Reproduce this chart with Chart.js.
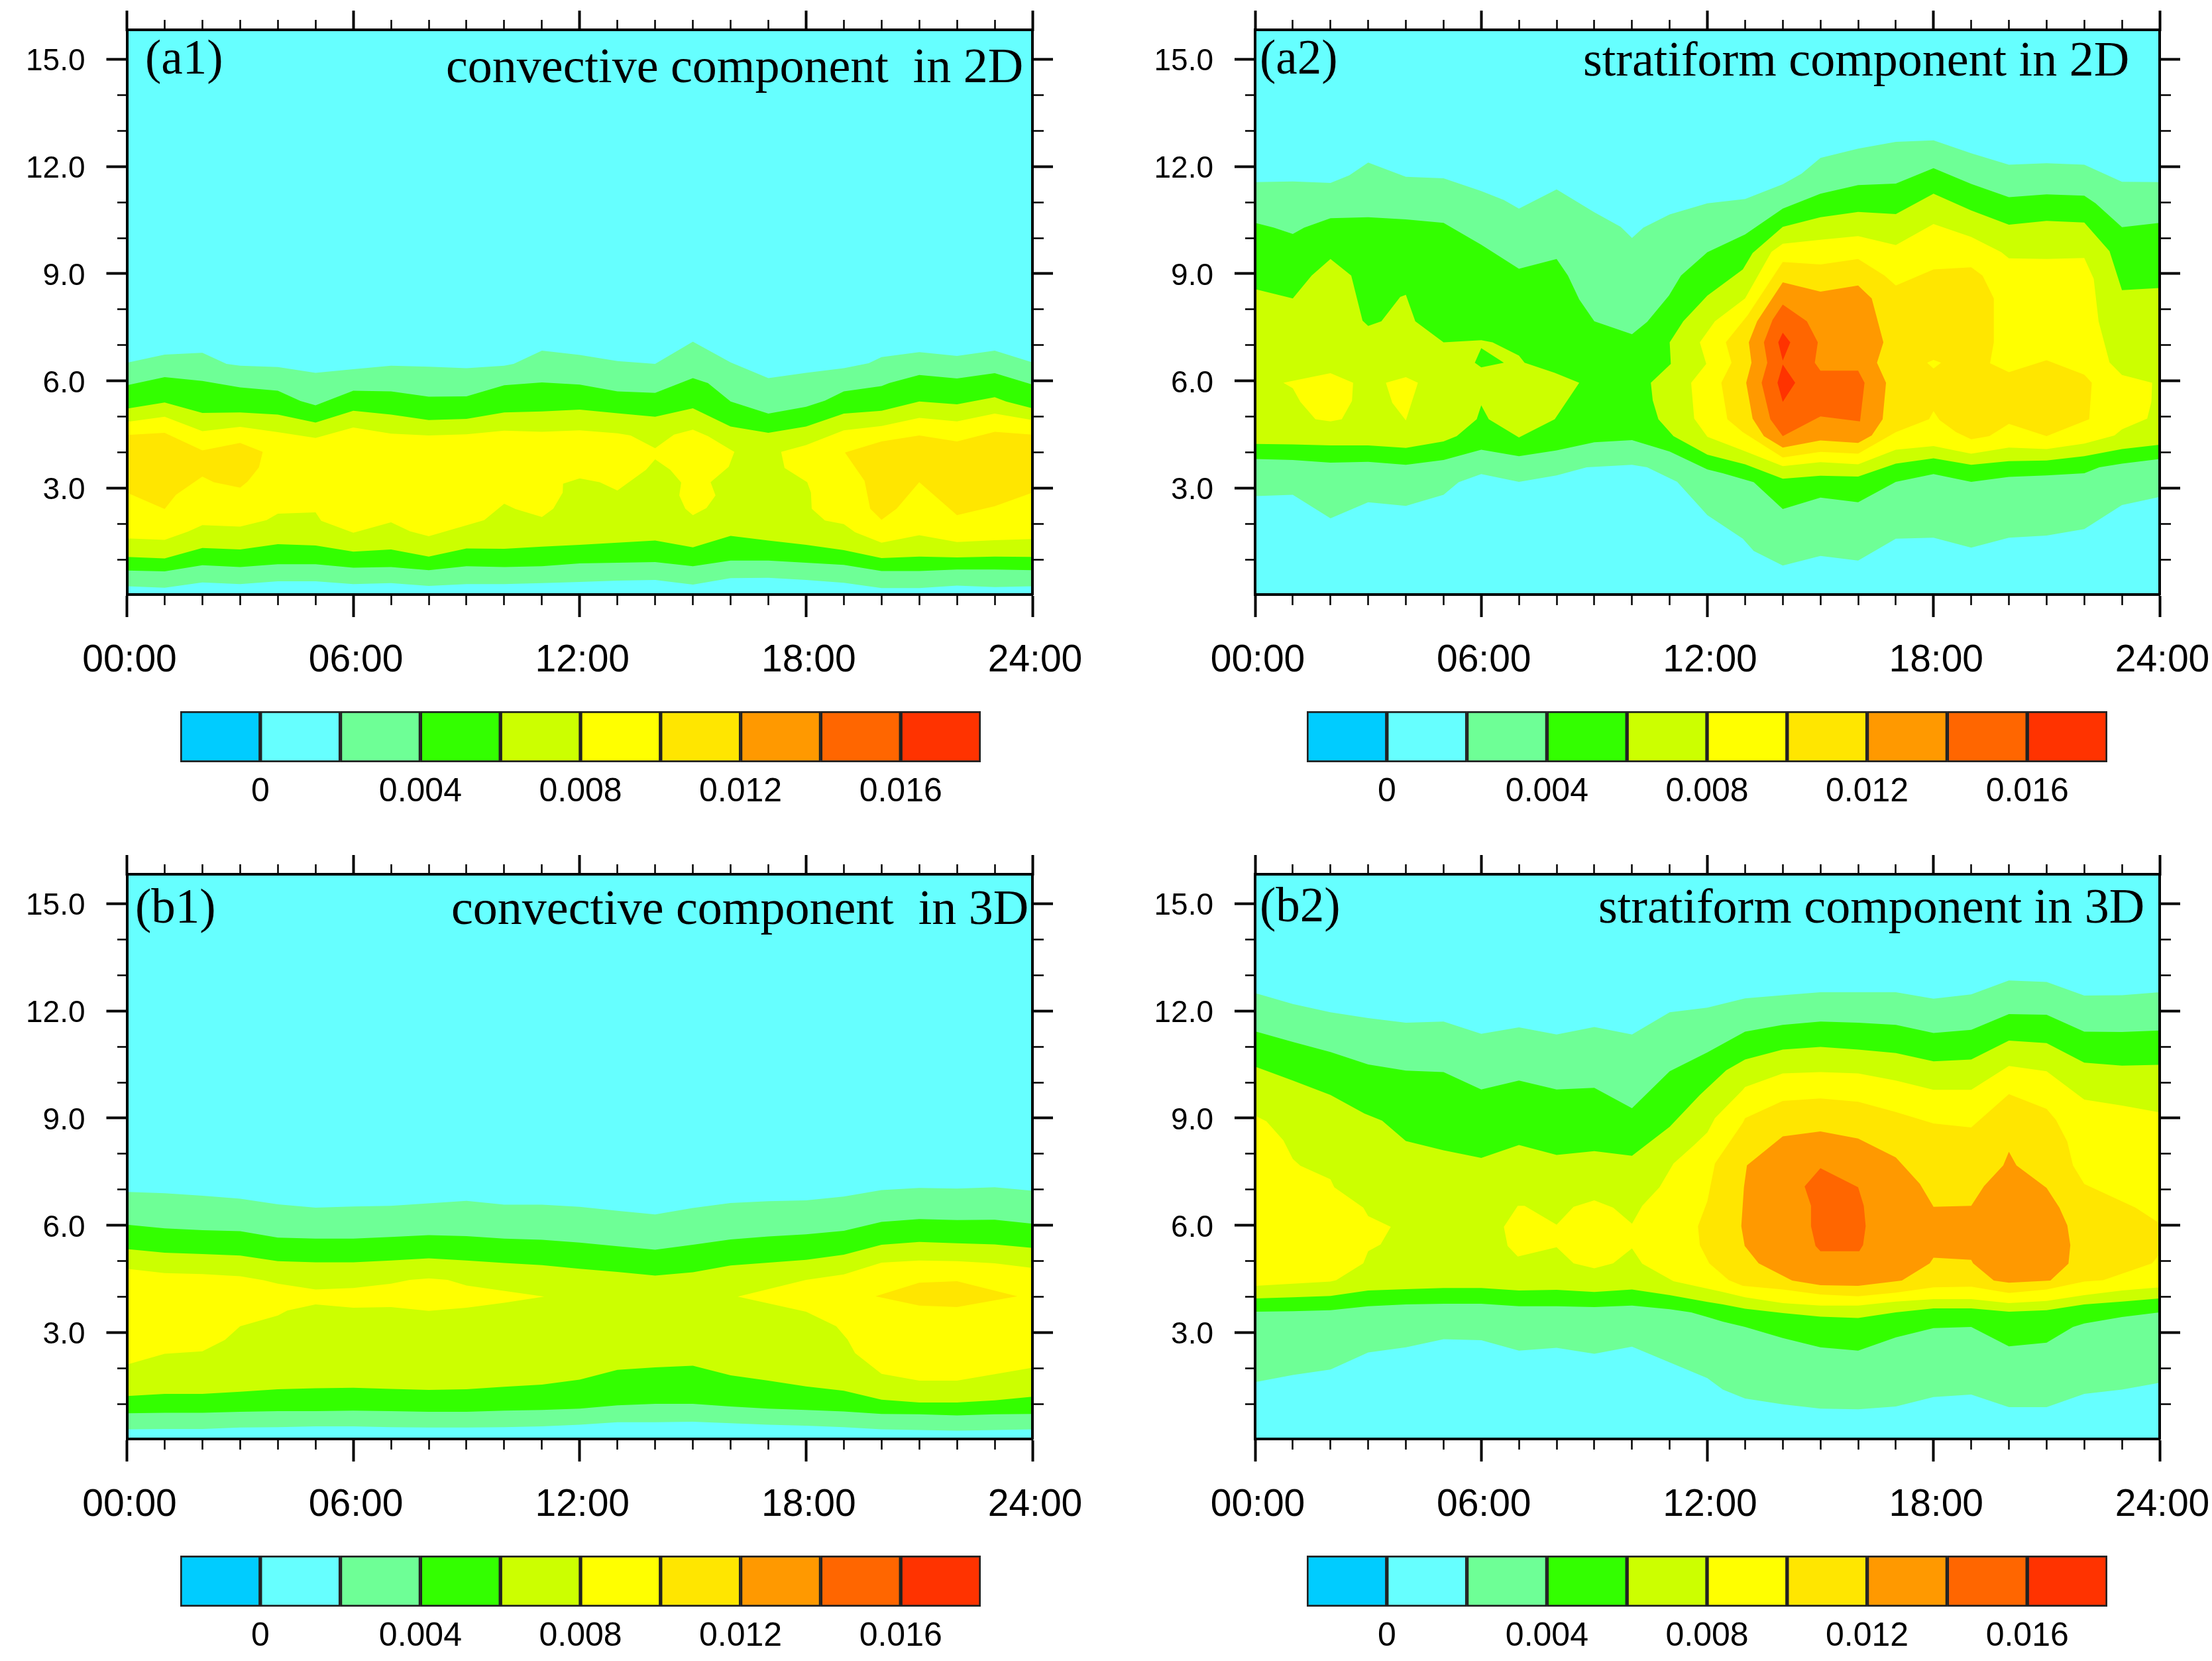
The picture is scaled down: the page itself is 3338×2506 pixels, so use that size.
<!DOCTYPE html>
<html><head><meta charset="utf-8">
<script src="https://cdn.jsdelivr.net/npm/chart.js@4"></script>
<style>
html,body{margin:0;padding:0;background:#fff;width:3338px;height:2506px;overflow:hidden}
canvas{position:absolute;display:block}
.t{position:absolute;font-family:"Liberation Serif",serif;color:#000;white-space:pre;line-height:1;transform-origin:0 50%}
</style></head><body>
<script>
const COL={cy:'#66ffff',lg:'#6eff96',gr:'#33ff00',yg:'#ccff00',ye:'#ffff00',go:'#ffe600',or:'#ff9900',dk:'#ff6600',re:'#ff3300',sky:'#00ccff'};
const yMin=0.03,yMax=15.82;
const xMajorTicks=[0,6,12,18,24];
const xMinorTicks=[1,2,3,4,5,7,8,9,10,11,13,14,15,16,17,19,20,21,22,23];
const yMajorTicks=[3,6,9,12,15];
const yMinorTicks=[1,2,4,5,7,8,10,11,13,14];
const xLabels=['00:00','06:00','12:00','18:00','24:00'];
const cbLevels=[-0.002,0,0.002,0.004,0.006,0.008,0.010,0.012,0.014,0.016];
const cbColors=[COL.sky,COL.cy,COL.lg,COL.gr,COL.yg,COL.ye,COL.go,COL.or,COL.dk,COL.re];
const cbTicks=[0,0.004,0.008,0.012,0.016];
const background=[[0,yMin],[24,yMin],[24,yMax],[0,yMax]];

// ---- panel a1: convective 2D
const a1_002top=[[0,6.51],[1,6.74],[2,6.79],[2.64,6.48],[3,6.43],[4,6.39],[5,6.23],[6,6.33],[7,6.43],[8,6.40],[9,6.36],[10,6.43],[10.25,6.48],[11,6.85],[12,6.73],[13,6.56],[14,6.48],[15,7.10],[16,6.52],[17,6.08],[18,6.23],[19,6.36],[19.66,6.50],[20,6.67],[21,6.81],[22,6.70],[23,6.85],[24,6.52]];
const a1_002bot=[[24,0.26],[23,0.24],[22,0.28],[21,0.21],[20,0.21],[19,0.36],[18,0.44],[17,0.50],[16,0.49],[15,0.31],[14,0.44],[13,0.42],[12,0.38],[11,0.35],[10,0.32],[9,0.32],[8,0.27],[7,0.35],[6,0.32],[5,0.40],[4,0.40],[3,0.32],[2,0.37],[1,0.22],[0,0.26]];
const a1_004top=[[0,5.88],[1,6.11],[2,6.0],[3,5.82],[4,5.73],[4.6,5.44],[5,5.32],[6,5.73],[7,5.71],[8,5.56],[9,5.57],[10,5.88],[11,5.96],[12,5.90],[13,5.71],[14,5.67],[15,6.08],[15.4,5.94],[16,5.43],[17,5.09],[18,5.28],[18.5,5.45],[19,5.71],[20,5.86],[20.2,5.94],[21,6.17],[22,6.07],[23,6.22],[24,5.90]];
const a1_004bot=[[24,0.71],[23,0.73],[22,0.73],[21,0.69],[20,0.69],[19,0.86],[18,0.92],[17,0.98],[16,0.98],[15,0.82],[14,0.94],[13,0.92],[12,0.90],[11,0.82],[10,0.80],[9,0.82],[8,0.71],[7,0.80],[6,0.78],[5,0.88],[4,0.88],[3,0.80],[2,0.85],[1,0.68],[0,0.70]];
const a1_006top=[[0,5.23],[1,5.40],[2,5.11],[3,5.12],[4,5.06],[5,4.84],[6,5.17],[7,5.06],[8,4.91],[9,4.94],[10,5.12],[11,5.15],[12,5.20],[13,5.10],[14,5.0],[15,5.24],[16,4.73],[17,4.55],[18,4.73],[19,5.09],[20,5.17],[21,5.43],[22,5.35],[23,5.55],[23.3,5.43],[24,5.24]];
const a1_006bot=[[24,1.08],[23,1.09],[22,1.07],[21,1.09],[20,1.05],[19,1.27],[18,1.42],[17,1.54],[16,1.67],[15,1.35],[14,1.54],[13,1.48],[12,1.42],[11,1.37],[10,1.31],[9,1.32],[8,1.09],[7,1.29],[6,1.23],[5,1.40],[4,1.44],[3,1.29],[2,1.33],[1,1.04],[0,1.08]];
const a1_008left=[[0,4.86],[1,5.0],[2,4.6],[3,4.72],[4,4.57],[5,4.41],[6,4.70],[7,4.53],[8,4.48],[9,4.51],[10,4.61],[11,4.58],[12,4.62],[13,4.54],[13.35,4.48],[14,4.12],[14.5,4.50],[15,4.64],[15.4,4.46],[16,4.08],[16.1,4.02],[15.95,3.6],[15.47,3.17],[15.6,2.8],[15.36,2.45],[15,2.25],[14.8,2.43],[14.64,2.8],[14.69,3.16],[14.4,3.52],[14,3.81],[13.76,3.52],[13,2.94],[12.53,3.17],[12,3.28],[11.56,3.13],[11.55,2.88],[11.3,2.43],[11,2.2],[10.3,2.42],[10,2.57],[9.47,2.11],[8,1.66],[7.5,1.8],[7,2.05],[6,1.76],[5.15,2.09],[5,2.33],[4,2.29],[3.7,2.11],[3,1.93],[2,1.97],[1.62,1.79],[1,1.56],[0,1.6]];
const a1_008right=[[17.34,4.02],[18,4.21],[19,4.62],[20,4.74],[21,4.97],[22,4.87],[23,5.09],[24,4.91],[24,1.58],[23,1.55],[22,1.50],[21,1.69],[20,1.48],[19.3,1.77],[19,2.0],[18.5,2.10],[18.15,2.43],[18.13,2.88],[18.03,3.17],[17.43,3.57]];
const a1_010left=[[0,4.49],[1,4.55],[2,4.06],[3,4.27],[3.6,4.02],[3.5,3.59],[3.2,3.19],[3,3.02],[2.3,3.17],[2,3.33],[1.3,2.82],[1,2.42],[0,2.88]];
const a1_010right=[[19.03,4.0],[20,4.31],[21,4.48],[22,4.31],[23,4.58],[24,4.50],[24,2.88],[23,2.50],[22,2.25],[21,3.17],[20.4,2.43],[20,2.12],[19.7,2.43],[19.55,3.21]];

// ---- panel a2: stratiform 2D
const a2_002top=[[0,11.56],[1,11.58],[2,11.54],[2.5,11.75],[3,12.11],[4,11.71],[5,11.67],[6,11.31],[6.6,11.06],[7,10.82],[8,11.36],[9,10.72],[9.7,10.31],[10,10.0],[10.3,10.29],[11,10.66],[12,10.97],[13,11.09],[14,11.5],[14.5,11.8],[15,12.24],[16,12.5],[17,12.69],[18,12.73],[19,12.37],[20,12.05],[21,12.09],[22,12.05],[23,11.57],[24,11.56]];
const a2_002bot=[[24,2.76],[23,2.53],[22,1.86],[21,1.68],[20,1.62],[19,1.34],[18,1.62],[17,1.59],[16,0.98],[15,1.11],[14,0.84],[13.23,1.25],[12.94,1.59],[12,2.25],[11.2,3.18],[10.4,3.59],[10,3.66],[8.8,3.59],[8,3.36],[7,3.18],[6,3.40],[5.4,3.17],[5,2.82],[4,2.51],[3,2.61],[2,2.16],[1,2.82],[0,2.78]];
const a2_004top=[[0,10.42],[0.5,10.29],[1,10.11],[1.3,10.29],[2,10.55],[3,10.58],[4,10.52],[5,10.42],[6,9.81],[7,9.14],[8,9.41],[8.3,8.95],[8.6,8.28],[9,7.67],[10,7.31],[10.4,7.65],[10.98,8.39],[11.3,8.95],[12,9.60],[13,10.1],[14,10.82],[15,11.24],[16,11.48],[17,11.52],[18,11.95],[19,11.51],[20,11.14],[21,11.22],[22,11.18],[22.3,10.97],[23,10.3],[24,10.42]];
const a2_004bot=[[24,3.82],[23,3.69],[22.4,3.59],[22,3.42],[21,3.36],[20,3.32],[19,3.18],[18,3.40],[17,3.18],[16,2.61],[15,2.74],[14,2.42],[13.23,3.17],[12.41,3.42],[12,3.53],[11,4.03],[10,4.35],[9,4.29],[8,4.06],[7,3.9],[6,4.08],[5,3.79],[4,3.66],[3,3.74],[2,3.72],[1,3.79],[0,3.82]];
const a2_006left=[[0,8.57],[1,8.31],[1.5,8.95],[2,9.41],[2.55,8.95],[2.85,7.69],[3,7.54],[3.35,7.67],[3.85,8.35],[4,8.41],[4.25,7.67],[5,7.08],[6,7.14],[6.3,7.08],[7,6.71],[7.15,6.51],[7.95,6.23],[8.6,5.95],[7.95,4.93],[7,4.42],[6.2,4.93],[6,5.32],[5.88,4.93],[5.35,4.46],[5,4.31],[4,4.13],[3,4.2],[2,4.2],[1,4.23],[0,4.24]];
const a2_006hole=[[6,6.92],[6.6,6.51],[6,6.38],[5.83,6.51]];
const a2_006right=[[11,7.08],[11.36,7.67],[12,8.39],[12.94,9.12],[13.2,9.58],[14,10.31],[15,10.58],[16,10.73],[17,10.67],[18,11.24],[19,10.77],[20,10.37],[21,10.48],[22,10.43],[22.67,9.63],[23,8.54],[24,8.6],[24,4.22],[23,4.1],[22,3.9],[21,3.78],[20,3.76],[19,3.66],[18,3.84],[17,3.69],[16,3.33],[15,3.35],[14,3.27],[13,3.67],[12.41,3.83],[12,3.94],[11.1,4.46],[10.7,4.93],[10.55,5.46],[10.5,5.95],[11.03,6.48]];
const a2_008isl1=[[0.75,5.95],[2,6.22],[2.6,5.95],[2.57,5.44],[2.3,4.93],[2,4.87],[1.6,4.93],[1.2,5.42],[1,5.8]];
const a2_008isl2=[[3.47,5.95],[4,6.11],[4.32,5.95],[4,4.9],[3.64,5.39]];
const a2_008right=[[11.8,7.08],[12.2,7.67],[13,8.31],[13.7,9.61],[14,9.84],[15,9.95],[16,10.05],[17,9.8],[18,10.39],[19,10.03],[19.8,9.6],[20,9.43],[21,9.41],[22,9.44],[22.25,8.86],[22.38,7.67],[22.67,6.52],[23,6.17],[23.8,5.95],[23.78,5.42],[23.67,4.95],[23,4.65],[22.8,4.48],[22,4.25],[21,4.1],[20,4.14],[19,3.97],[18,4.18],[17,4.08],[16,3.67],[15,3.73],[14,3.62],[12.94,4.06],[12,4.44],[11.65,4.95],[11.57,5.95],[11.97,6.48]];
const a2_010=[[12.49,7.08],[13.07,7.84],[14,9.33],[15,9.26],[16,9.41],[16.7,8.95],[17,8.67],[18,9.12],[19,9.18],[19.3,8.95],[19.6,8.31],[19.6,7.08],[19.5,6.5],[20,6.25],[21,6.58],[22,6.18],[22.2,5.95],[22.13,4.93],[21,4.46],[20,4.8],[19.48,4.46],[19,4.37],[18.6,4.57],[18.16,4.91],[18,5.16],[17.88,4.93],[17,4.57],[16,3.97],[15,4.02],[14,3.86],[12.94,4.57],[12.53,4.93],[12.37,5.95],[12.64,6.51]];
const a2_010hole=[[17.83,6.51],[18,6.59],[18.2,6.51],[18,6.35]];
const a2_012=[[14,8.76],[15,8.5],[16,8.67],[16.36,8.31],[16.67,7.08],[16.5,6.51],[16.74,5.95],[16.65,4.93],[16.36,4.48],[16,4.27],[15,4.34],[14,4.14],[13.5,4.46],[13.2,4.95],[13.03,5.95],[13.17,6.51],[13.1,7.08],[13.32,7.67]];
const a2_014=[[14,8.14],[14.64,7.67],[14.93,7.08],[14.85,6.51],[15,6.29],[16,6.29],[16.17,5.95],[16.05,4.87],[15,5.01],[14,4.46],[13.67,4.93],[13.44,5.95],[13.59,6.51],[13.5,7.08],[13.73,7.71]];
const a2_016a=[[14,7.35],[14.2,7.08],[14,6.57],[13.88,7.08]];
const a2_016b=[[14,6.46],[14.33,5.95],[14,5.42],[13.86,5.95]];

// ---- panel b1: convective 3D
const b1_002top=[[0,6.94],[1,6.90],[2,6.83],[3,6.75],[4,6.59],[5,6.50],[6,6.53],[7,6.55],[8,6.62],[9,6.69],[10,6.58],[11,6.58],[12,6.52],[13,6.41],[14,6.31],[15,6.49],[16,6.63],[17,6.68],[18,6.70],[19,6.81],[20,6.99],[21,7.05],[22,7.03],[23,7.07],[24,6.97]];
const b1_002bot=[[24,0.30],[23,0.28],[22,0.26],[21,0.28],[20,0.30],[19,0.36],[18,0.40],[17,0.43],[16,0.47],[15,0.51],[14,0.50],[13,0.50],[12,0.43],[11,0.38],[10,0.36],[9,0.35],[8,0.35],[7,0.36],[6,0.38],[5,0.38],[4,0.36],[3,0.35],[2,0.31],[1,0.31],[0,0.30]];
const b1_004top=[[0,6.02],[1,5.92],[2,5.87],[3,5.84],[4,5.66],[5,5.63],[6,5.63],[7,5.68],[8,5.73],[9,5.70],[10,5.63],[11,5.60],[12,5.52],[13,5.42],[14,5.32],[15,5.46],[16,5.61],[17,5.69],[18,5.75],[19,5.85],[20,6.10],[21,6.18],[22,6.15],[23,6.16],[24,6.05]];
const b1_004bot=[[24,0.73],[23,0.72],[22,0.69],[21,0.72],[20,0.73],[19,0.80],[18,0.84],[17,0.88],[16,0.94],[15,1.01],[14,1.01],[13,0.97],[12,0.88],[11,0.84],[10,0.82],[9,0.79],[8,0.79],[7,0.81],[6,0.82],[5,0.81],[4,0.81],[3,0.79],[2,0.76],[1,0.76],[0,0.75]];
const b1_006top=[[0,5.34],[1,5.24],[2,5.20],[3,5.16],[4,5.0],[5,4.97],[6,4.97],[7,5.02],[8,5.08],[9,5.02],[10,4.95],[11,4.89],[12,4.79],[13,4.70],[14,4.60],[15,4.69],[16,4.88],[17,4.96],[18,5.04],[19,5.18],[20,5.46],[21,5.54],[22,5.50],[23,5.47],[24,5.37]];
const b1_006bot=[[24,1.21],[23,1.11],[22,1.05],[21,1.05],[20,1.13],[19,1.38],[18,1.50],[17,1.66],[16,1.81],[15,2.08],[14,2.03],[13,1.96],[12,1.69],[11,1.55],[10,1.49],[9,1.42],[8,1.40],[7,1.43],[6,1.46],[5,1.45],[4,1.42],[3,1.35],[2,1.29],[1,1.29],[0,1.23]];
const b1_008left=[[0,4.79],[1,4.67],[2,4.64],[3,4.58],[3.62,4.47],[4,4.37],[5,4.21],[6,4.25],[7,4.37],[7.5,4.48],[8,4.52],[8.5,4.48],[9,4.32],[11.06,4.01],[10,3.84],[9,3.70],[8,3.61],[7,3.72],[6,3.70],[5,3.79],[4.25,3.62],[4,3.48],[3,3.18],[2.6,2.80],[2,2.48],[1,2.41],[0,2.11]];
const b1_008right=[[16.19,4.01],[18,4.48],[19,4.63],[20,4.96],[21,5.02],[22,5.0],[23,4.94],[24,4.81],[24,2.02],[23,1.84],[22,1.66],[21,1.66],[20,1.85],[19.3,2.43],[19.1,2.81],[18.8,3.18],[18,3.59]];
const b1_010=[[19.84,4.02],[21,4.40],[22,4.44],[23.6,4.02],[22,3.72],[21,3.76]];

// ---- panel b2: stratiform 3D
const b2_002top=[[0,12.5],[1,12.19],[2,11.96],[3,11.8],[4,11.67],[5,11.7],[6,11.36],[7,11.54],[8,11.34],[9,11.55],[10,11.34],[11,11.96],[12,12.09],[13,12.35],[14,12.44],[15,12.52],[16,12.52],[17,12.52],[18,12.34],[19,12.46],[20,12.85],[21,12.81],[22,12.43],[23,12.44],[24,12.52]];
const b2_002bot=[[24,1.6],[23,1.41],[22,1.29],[21,0.92],[20,0.92],[19,1.27],[18,1.2],[17,0.94],[16,0.86],[15,0.88],[14,1.0],[13,1.16],[12.41,1.41],[12,1.73],[11,2.17],[10,2.61],[9,2.41],[8,2.58],[7,2.5],[6,2.79],[5,2.82],[4,2.59],[3,2.45],[2,1.97],[1,1.82],[0,1.62]];
const b2_004top=[[0,11.43],[1,11.13],[2,10.85],[3,10.5],[4,10.33],[5,10.29],[6,9.80],[7,10.05],[8,9.80],[9,9.85],[10,9.28],[11,10.31],[12,10.84],[13,11.42],[14,11.61],[15,11.7],[16,11.67],[17,11.61],[18,11.38],[19,11.47],[20,11.91],[21,11.89],[22,11.42],[23,11.41],[24,11.45]];
const b2_004bot=[[24,3.57],[23,3.44],[22,3.26],[21.7,3.16],[21,2.72],[20,2.62],[19,3.16],[18,3.13],[17,2.87],[16,2.5],[15,2.59],[14,2.85],[13,3.16],[12.41,3.31],[12,3.44],[11.57,3.57],[11,3.66],[10,3.76],[9,3.72],[8,3.74],[7,3.74],[6,3.81],[5,3.81],[4,3.79],[3,3.74],[2,3.63],[1,3.6],[0,3.59]];
const b2_006top=[[0,10.44],[1,10.05],[2,9.65],[2.9,9.13],[3.37,8.93],[4,8.36],[5,8.1],[6,7.89],[7,8.25],[8,7.97],[9,8.08],[10,7.95],[11,8.76],[11.8,9.65],[12.5,10.34],[13,10.64],[14,10.92],[15,10.99],[16,10.92],[17,10.82],[18,10.59],[19,10.64],[20,11.17],[21,11.1],[22,10.55],[23,10.47],[24,10.49]];
const b2_006bot=[[24,3.96],[23,3.87],[22,3.79],[21,3.63],[20,3.59],[19,3.68],[18,3.68],[17,3.57],[16,3.41],[15,3.45],[14,3.55],[13,3.67],[12.41,3.79],[12,3.86],[11,4.05],[10,4.21],[9,4.14],[8,4.2],[7,4.18],[6,4.25],[5,4.25],[4,4.22],[3,4.18],[2,4.03],[1,3.99],[0,3.96]];
const b2_008left=[[0,9.07],[0.3,8.91],[0.75,8.38],[1,7.86],[1.2,7.67],[2,7.29],[2.1,7.07],[2.87,6.50],[3,6.26],[3.6,5.96],[3.33,5.47],[3,5.28],[2.87,4.94],[2.15,4.47],[2,4.43],[0,4.31]];
const b2_008right=[[6.6,5.96],[6.97,6.55],[7.15,6.55],[8,6.02],[8.45,6.52],[9,6.7],[9.5,6.5],[10,6.05],[10.27,6.55],[10.73,7.07],[11.1,7.73],[11.65,8.25],[12,8.6],[12.2,9.0],[12.94,9.79],[13,9.87],[14,10.25],[15,10.29],[16,10.25],[17,10.05],[18,9.79],[19,9.79],[20,10.46],[21,10.31],[22,9.52],[23,9.35],[24,9.16],[24,4.27],[23,4.18],[22,4.05],[21,3.89],[20,3.83],[19,3.94],[18,3.94],[17,3.87],[16,3.76],[15,3.76],[14,3.83],[13,3.99],[12.41,4.14],[11.1,4.44],[10.27,4.93],[10,5.36],[9.5,4.94],[9,4.8],[8.45,4.94],[8,5.39],[6.97,5.13],[6.7,5.43]];
const b2_010=[[11.75,5.98],[12,6.68],[12.2,7.73],[12.94,8.87],[13,9.0],[14,9.48],[15,9.55],[16,9.46],[17,9.17],[18,8.85],[19,8.74],[20,9.67],[21,9.26],[21.25,8.95],[21.55,8.34],[21.7,7.68],[22,7.16],[23.36,6.5],[24,6.06],[24,5.2],[23.8,4.94],[22.5,4.47],[22,4.43],[21,4.21],[20,4.11],[19,4.29],[18,4.27],[17,4.12],[16,4.02],[15,4.07],[14,4.21],[12.94,4.31],[12.57,4.47],[12.05,4.94],[11.8,5.45]];
const b2_012=[[13.05,7.68],[14,8.49],[15,8.63],[16,8.43],[17,7.9],[17.64,7.16],[18,6.52],[19,6.55],[19.34,7.1],[19.85,7.68],[20,8.06],[20.2,7.68],[21,7.05],[21.34,6.5],[21.55,6.0],[21.63,5.45],[21.58,4.93],[21.1,4.46],[20,4.4],[19.6,4.46],[19.05,4.94],[19,5.04],[18,5.1],[17.9,4.94],[17.16,4.46],[16,4.31],[15,4.33],[14.25,4.46],[13.36,4.94],[12.99,5.43],[12.9,5.98],[12.97,7.07]];
const b2_014=[[15,7.6],[16,7.07],[16.15,6.55],[16.2,5.98],[16.13,5.45],[16.03,5.28],[15,5.28],[14.87,5.43],[14.75,5.98],[14.75,6.55],[14.58,7.09]];

const join=(a,b)=>a.concat(b);
const panels=[
 {id:'a1',left:0,top:0,w:1650,h:1050,plot:[191.5,45,1558,897],polys:[
  [background,COL.cy],[join(a1_002top,a1_002bot),COL.lg],[join(a1_004top,a1_004bot),COL.gr],[join(a1_006top,a1_006bot),COL.yg],
  [a1_008left,COL.ye],[a1_008right,COL.ye],[a1_010left,COL.go],[a1_010right,COL.go]]},
 {id:'a2',left:1700,top:0,w:1638,h:1050,plot:[1894,45,3259,897],polys:[
  [background,COL.cy],[join(a2_002top,a2_002bot),COL.lg],[join(a2_004top,a2_004bot),COL.gr],[a2_006left,COL.yg],[a2_006hole,COL.gr],[a2_006right,COL.yg],
  [a2_008isl1,COL.ye],[a2_008isl2,COL.ye],[a2_008right,COL.ye],[a2_010,COL.go],[a2_010hole,COL.ye],[a2_012,COL.or],[a2_014,COL.dk],[a2_016a,COL.re],[a2_016b,COL.re]]},
 {id:'b1',left:0,top:1270,w:1650,h:1040,plot:[191.5,1319,1558,2171],polys:[
  [background,COL.cy],[join(b1_002top,b1_002bot),COL.lg],[join(b1_004top,b1_004bot),COL.gr],[join(b1_006top,b1_006bot),COL.yg],
  [b1_008left,COL.ye],[b1_008right,COL.ye],[b1_010,COL.go]]},
 {id:'b2',left:1700,top:1270,w:1638,h:1040,plot:[1894,1319,3259,2171],polys:[
  [background,COL.cy],[join(b2_002top,b2_002bot),COL.lg],[join(b2_004top,b2_004bot),COL.gr],[join(b2_006top,b2_006bot),COL.yg],
  [b2_008left,COL.ye],[b2_008right,COL.ye],[b2_010,COL.go],[b2_012,COL.or],[b2_014,COL.dk]]}
];
const labels=[
 ['(a1)',219,90],['convective component  in 2D',673,102],
 ['(a2)',1901,90],['stratiform component in 2D',2389,92],
 ['(b1)',204,1371],['convective component  in 3D',681,1372],
 ['(b2)',1901,1369],['stratiform component in 3D',2412,1370]
];
const colorbars=[[272,1073],[1972,1073],[272,2347],[1972,2347]];

function mkCanvas(l,t,w,h){const c=document.createElement('canvas');c.width=w;c.height=h;c.style.left=l+'px';c.style.top=t+'px';c.style.width=w+'px';c.style.height=h+'px';document.body.appendChild(c);return c;}
const setTicks=list=>ax=>{ax.ticks=list.map(v=>({value:v}));};
const noPad=s=>{s.paddingLeft=0;s.paddingRight=0;s.paddingTop=0;s.paddingBottom=0;};

function scaleBase(axis,list,min,max,len,width,position){
  return {type:'linear',axis,min,max,position,afterBuildTicks:setTicks(list),afterFit:noPad,
    ticks:{display:false,autoSkip:false,maxRotation:0},
    grid:{display:true,drawOnChartArea:false,drawTicks:true,tickLength:len,tickWidth:width,tickColor:'#000'},
    border:{display:false}};
}
panels.forEach(p=>{
  const [L,T,R,B]=p.plot;
  const cv=mkCanvas(p.left,p.top,p.w,p.h);
  const yAxisW=L-p.left, xAxisH=p.top+p.h-B;
  const frame=(o)=>{o.border={display:true,color:'#000',width:4,z:2};return o;};
  const x=frame(scaleBase('x',xMajorTicks,0,24,34,4,'bottom'));
  x.ticks={display:true,autoSkip:false,maxRotation:0,minRotation:0,padding:32,labelOffset:4,color:'#000',font:{family:'"Liberation Sans"',size:57},
    callback:v=>xLabels[xMajorTicks.indexOf(v)]};
  x.afterFit=s=>{noPad(s);s.height=xAxisH;};
  const y=frame(scaleBase('y',yMajorTicks,yMin,yMax,31,4,'left'));
  y.ticks={display:true,autoSkip:false,padding:32,labelOffset:4,color:'#000',font:{family:'"Liberation Sans"',size:46},callback:v=>v.toFixed(1)};
  y.afterFit=s=>{noPad(s);s.width=yAxisW;};
  const scales={x,y,
    xBottomMinor:scaleBase('x',xMinorTicks,0,24,16,2.5,{y:yMin}),
    xTopMajor:frame(scaleBase('x',xMajorTicks,0,24,-31,4,{y:yMax})),
    xTopMinor:scaleBase('x',xMinorTicks,0,24,-15,2.5,{y:yMax}),
    yLeftMinor:scaleBase('y',yMinorTicks,yMin,yMax,15,2.5,{x:0}),
    yRightMajor:frame(scaleBase('y',yMajorTicks,yMin,yMax,-33,4,{x:24})),
    yRightMinor:scaleBase('y',yMinorTicks,yMin,yMax,-17,2.5,{x:24})
  };
  const n=p.polys.length;
  new Chart(cv,{type:'line',
    data:{datasets:p.polys.map(([pts,col],i)=>({
      label:p.id+'-'+i,data:pts.map(([h,v])=>({x:h,y:v})),xAxisID:'x',yAxisID:'y',
      fill:'shape',backgroundColor:col,borderColor:col,borderWidth:0,pointRadius:0,tension:0,order:n-i,spanGaps:true}))},
    options:{responsive:false,animation:false,devicePixelRatio:1,parsing:true,
      layout:{padding:{top:T-p.top,right:p.left+p.w-R,left:0,bottom:0}},
      plugins:{legend:{display:false},title:{display:false},tooltip:{enabled:false}},
      events:[],scales}});
});
colorbars.forEach(([l,t])=>{
  const W=1208,H=77,pad=90;
  const cv=mkCanvas(l-pad,t-6,W+2*pad,H+6+90);
  new Chart(cv,{type:'bar',
    data:{labels:['cb'],datasets:cbLevels.map((lo,i)=>({label:String(lo),data:[[lo,lo+0.002]],backgroundColor:cbColors[i],borderColor:'#222',borderWidth:3,borderSkipped:false,
      categoryPercentage:1,barPercentage:1}))},
    options:{indexAxis:'y',responsive:false,animation:false,devicePixelRatio:1,events:[],
      layout:{padding:{top:6,left:pad,right:pad,bottom:0}},
      plugins:{legend:{display:false},tooltip:{enabled:false}},
      scales:{
       y:{type:'category',stacked:true,display:false},
       x:{type:'linear',min:-0.002,max:0.018,position:'bottom',afterBuildTicks:setTicks(cbTicks),
        afterFit:s=>{noPad(s);s.height=90;},
        grid:{display:false},border:{display:false},
        ticks:{autoSkip:false,maxRotation:0,minRotation:0,padding:7,color:'#000',font:{family:'"Liberation Sans"',size:50},
          callback:v=>v===0?'0':v.toFixed(3)}}
      }}});
});
labels.forEach(([s,x,y])=>{
  const d=document.createElement('div');d.className='t';d.textContent=s;
  d.style.left=x+'px';d.style.top=(y-40)+'px';d.style.fontSize=(s.length<5?73:74)+'px';
  document.body.appendChild(d);
});
</script>
</body></html>
